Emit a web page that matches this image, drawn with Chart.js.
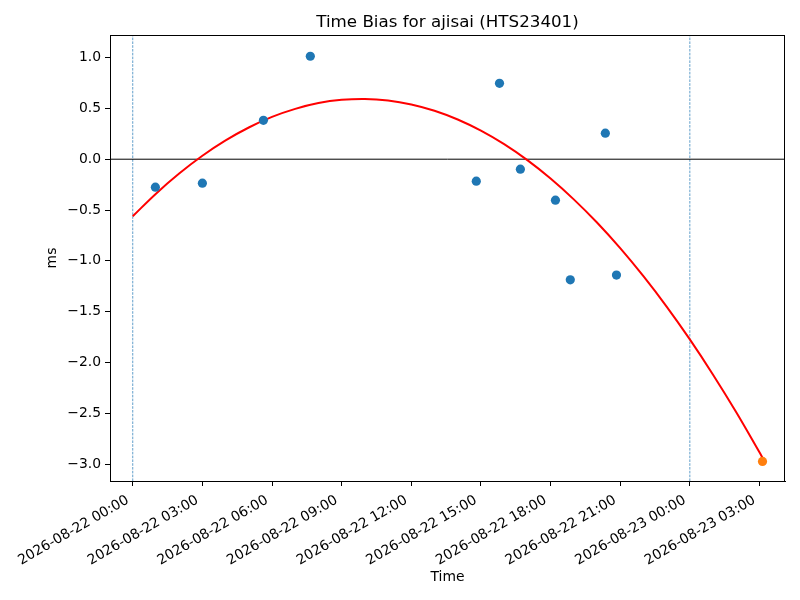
<!DOCTYPE html>
<html>
<head>
<meta charset="utf-8">
<script src="https://cdn.jsdelivr.net/npm/chart.js@4"></script>
<style>
  body { margin: 0; background: #fff; }
  canvas { display: block; }
</style>
</head>
<body>
<canvas id="myChart" width="800" height="600"></canvas>
<script>
// hours since 2026-08-22 00:00
const biasHours = [0.975, 3.0, 5.63, 7.65, 14.8, 15.8, 16.7, 18.21, 18.85, 20.36, 20.84];
const biasMs = [-0.275, -0.236, 0.383, 1.013, -0.216, 0.747, -0.098, -0.403, -1.187, 0.256, -1.14];

const predictHours = [27.13];
const predictMs = [-2.973];

// red fit curve
const fitHours = [0, 1, 2, 3, 4, 5, 6, 7, 8, 9, 10, 11, 12, 13, 14, 15, 16, 17, 18, 19, 20,
  21, 22, 23, 24, 25, 26, 27, 27.13];
const fitMs = [-0.561, -0.339, -0.141, 0.034, 0.185, 0.312, 0.416, 0.495, 0.552, 0.584, 0.593,
  0.578, 0.539, 0.477, 0.391, 0.281, 0.148, -0.009, -0.19, -0.395, -0.623, -0.875, -1.151,
  -1.45, -1.773, -2.12, -2.49, -2.884, -2.937];

const dayLineHours = [0, 24];

const xTickHours = [0, 3, 6, 9, 12, 15, 18, 21, 24, 27];
const xTickLabels = ['2026-08-22 00:00', '2026-08-22 03:00', '2026-08-22 06:00', '2026-08-22 09:00',
  '2026-08-22 12:00', '2026-08-22 15:00', '2026-08-22 18:00', '2026-08-22 21:00',
  '2026-08-23 00:00', '2026-08-23 03:00'];
const yTicks = [-3.0, -2.5, -2.0, -1.5, -1.0, -0.5, 0.0, 0.5, 1.0];

const xMin = -0.98, xMax = 28.1;
const yMin = -3.166, yMax = 1.222;

const titleText = 'Time Bias for ajisai (HTS23401)';

Chart.defaults.font.family = 'DejaVu Sans';
Chart.defaults.font.size = 13.9;
Chart.defaults.color = '#000';

const pts = (xs, ys) => xs.map((x, i) => ({x: x, y: ys[i]}));

const datasets = [
  {
    label: 'bias',
    data: pts(biasHours, biasMs),
    backgroundColor: '#1f77b4',
    borderWidth: 0,
    pointRadius: 4.6,
    order: 0
  },
  {
    label: 'predict',
    data: pts(predictHours, predictMs),
    backgroundColor: '#ff7f0e',
    borderWidth: 0,
    pointRadius: 4.6,
    order: 0
  },
  {
    label: 'fit',
    data: pts(fitHours, fitMs),
    showLine: true,
    borderColor: 'red',
    borderWidth: 2,
    pointRadius: 0,
    tension: 0.4,
    order: 1
  },
  {
    label: 'zero',
    data: [{x: xMin, y: 0}, {x: xMax, y: 0}],
    showLine: true,
    borderColor: '#000',
    borderWidth: 1,
    pointRadius: 0,
    order: 2
  }
];

dayLineHours.forEach(h => {
  datasets.push({
    label: 'day',
    data: [{x: h, y: yMin}, {x: h, y: yMax}],
    showLine: true,
    borderColor: '#1f77b4',
    borderWidth: 0.7,
    borderDash: [2.6, 1.2],
    pointRadius: 0,
    order: 3
  });
});

const frame = {
  id: 'frame',
  afterDraw(chart) {
    const {ctx, chartArea: a} = chart;
    ctx.save();
    ctx.strokeStyle = '#000';
    ctx.lineWidth = 1;
    ctx.strokeRect(Math.round(a.left) + 0.5, Math.round(a.top) + 0.5,
      Math.round(a.right - a.left) - 1, Math.round(a.bottom - a.top));
    ctx.font = '16.7px "DejaVu Sans"';
    ctx.fillStyle = '#000';
    ctx.textAlign = 'center';
    ctx.textBaseline = 'alphabetic';
    ctx.fillText(titleText, (a.left + a.right) / 2, 27.3);
    ctx.restore();
  }
};

const ctx = document.querySelector('#myChart');

const myChart = new Chart(ctx, {
  type: 'scatter',
  data: {datasets: datasets},
  options: {
    responsive: false,
    animation: false,
    events: [],
    layout: {padding: {top: 35, right: 15, left: 0, bottom: 0}},
    plugins: {legend: {display: false}, tooltip: {enabled: false}},
    scales: {
      x: {
        type: 'linear',
        min: xMin,
        max: xMax,
        afterBuildTicks: s => { s.ticks = xTickHours.map(v => ({value: v})); },
        afterFit: s => { s.height = 119; s.paddingLeft = 0; s.paddingRight = 0; },
        ticks: {
          autoSkip: false,
          minRotation: 30,
          maxRotation: 30,
          padding: 6,
          labelOffset: -5,
          callback: (v, i) => xTickLabels[i]
        },
        grid: {drawOnChartArea: false, color: '#000', tickLength: 5},
        border: {color: '#000', width: 1},
        title: {display: true, text: 'Time', padding: {top: 0, bottom: 14.7}}
      },
      y: {
        min: yMin,
        max: yMax,
        afterBuildTicks: s => { s.ticks = yTicks.map(v => ({value: v})); },
        afterFit: s => { s.width = 110; s.paddingTop = 0; s.paddingBottom = 0; },
        ticks: {
          autoSkip: false,
          padding: 4,
          callback: v => v.toFixed(1).replace('-', '\u2212')
        },
        grid: {drawOnChartArea: false, color: '#000', tickLength: 5},
        border: {color: '#000', width: 1},
        title: {display: true, text: 'ms', padding: {top: 44.4, bottom: 0}}
      }
    }
  },
  plugins: [frame]
});
</script>
</body>
</html>
